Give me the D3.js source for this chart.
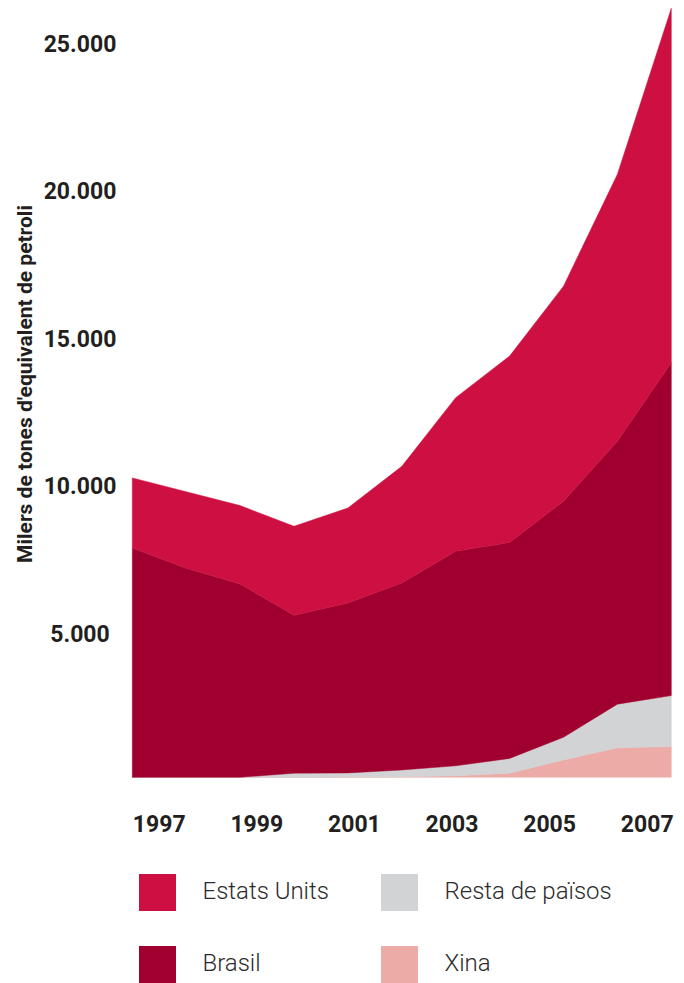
<!DOCTYPE html>
<html>
<head>
<meta charset="utf-8">
<script src="https://cdn.jsdelivr.net/npm/d3@7"></script>
<style>
  body { margin: 0; background: #fff; }
  svg { display: block; font-family: Roboto, "Noto Sans", sans-serif; }
</style>
</head>
<body>
<div id="chart"></div>
<script>
const years = [1997, 1998, 1999, 2000, 2001, 2002, 2003, 2004, 2005, 2006, 2007];
const xina = [0, 0, 0, 0, 10, 20, 50, 140, 590, 1000, 1040];
const restaPaisos = [0, 0, 0, 140, 140, 230, 340, 500, 770, 1480, 1730];
const brasil = [7770, 7090, 6550, 5350, 5760, 6340, 7270, 7320, 8000, 8910, 11280];
const estatsUnits = [2380, 2590, 2660, 3020, 3220, 3950, 5210, 6320, 7290, 9050, 12020];
const yTicks = [5000, 10000, 15000, 20000, 25000];
const yearLabels = [1997, 1999, 2001, 2003, 2005, 2007];
const seriesKeys = ["xina", "resta", "brasil", "eeuu"];
const seriesNames = { eeuu: "Estats Units", brasil: "Brasil", resta: "Resta de països", xina: "Xina" };
const colors = { eeuu: "#cd1041", brasil: "#9f002f", resta: "#d1d3d4", xina: "#edaba7" };
const yTitle = "Milers de tones d'equivalent de petroli";

const w = 684, h = 983;
const table = years.map((y, i) => ({
  year: y, xina: xina[i], resta: restaPaisos[i], brasil: brasil[i], eeuu: estatsUnits[i]
}));

const svg = d3.select("#chart").append("svg")
  .attr("width", w)
  .attr("height", h);

const x = d3.scaleLinear().domain([1997, 2007]).range([132.3, 671.3]);
const y = d3.scaleLinear().domain([0, 25000]).range([777.3, 39.8]);
// year labels sit on their own spacing in the original
const xLab = d3.scaleLinear().domain([1997, 2007]).range([158.7, 646.7]);

const stacked = d3.stack().keys(seriesKeys)(table);

const area = d3.area()
  .x(d => x(d.data.year))
  .y0(d => y(d[0]))
  .y1(d => y(d[1]));

svg.append("g").selectAll("path")
  .data(stacked)
  .enter().append("path")
  .attr("d", area)
  .attr("fill", d => colors[d.key])
  .attr("stroke", d => colors[d.key])
  .attr("stroke-width", 0.5);

// y axis labels
const yAxis = d3.axisLeft(y).tickValues(yTicks).tickSize(0)
  .tickFormat(d => d3.format(",")(d).replace(/,/g, "."));
const gy = svg.append("g").attr("transform", "translate(80,0)").call(yAxis);
gy.select(".domain").remove();
gy.selectAll("text")
  .attr("x", 0)
  .attr("dy", 0)
  .attr("y", 11.2)
  .attr("text-anchor", "middle")
  .attr("font-size", "23px")
  .attr("font-weight", "bold")
  .attr("font-family", "Roboto, sans-serif")
  .attr("fill", "#231f20");

// x axis labels
const xAxis = d3.axisBottom(xLab).tickValues(yearLabels).tickSize(0).tickFormat(d3.format("d"));
const gx = svg.append("g").attr("transform", "translate(0,814.5)").call(xAxis);
gx.select(".domain").remove();
gx.selectAll("text")
  .attr("y", 0)
  .attr("dy", "0.75em")
  .attr("font-size", "23px")
  .attr("font-weight", "bold")
  .attr("font-family", "Roboto, sans-serif")
  .attr("fill", "#231f20");

// axis title
svg.append("text")
  .attr("transform", "translate(31.5,384) rotate(-90)")
  .attr("text-anchor", "middle")
  .attr("font-size", "19.5px")
  .attr("font-weight", "bold")
  .attr("fill", "#231f20")
  .attr("textLength", 358)
  .attr("lengthAdjust", "spacingAndGlyphs")
  .text(yTitle);

// legend
const legendOrder = ["eeuu", "resta", "brasil", "xina"];
const legend = svg.append("g").selectAll("g")
  .data(legendOrder)
  .enter().append("g")
  .attr("transform", (d, i) => `translate(${i % 2 ? 381 : 139}, ${i < 2 ? 874 : 946})`);

legend.append("rect")
  .attr("width", 37)
  .attr("height", 37)
  .attr("fill", d => colors[d]);

legend.append("text")
  .attr("x", 63.5)
  .attr("y", 25.3)
  .attr("font-size", "24px")
  .attr("font-weight", 300)
  .attr("fill", "#2b2b2b")
  .text(d => seriesNames[d]);
</script>
</body>
</html>
